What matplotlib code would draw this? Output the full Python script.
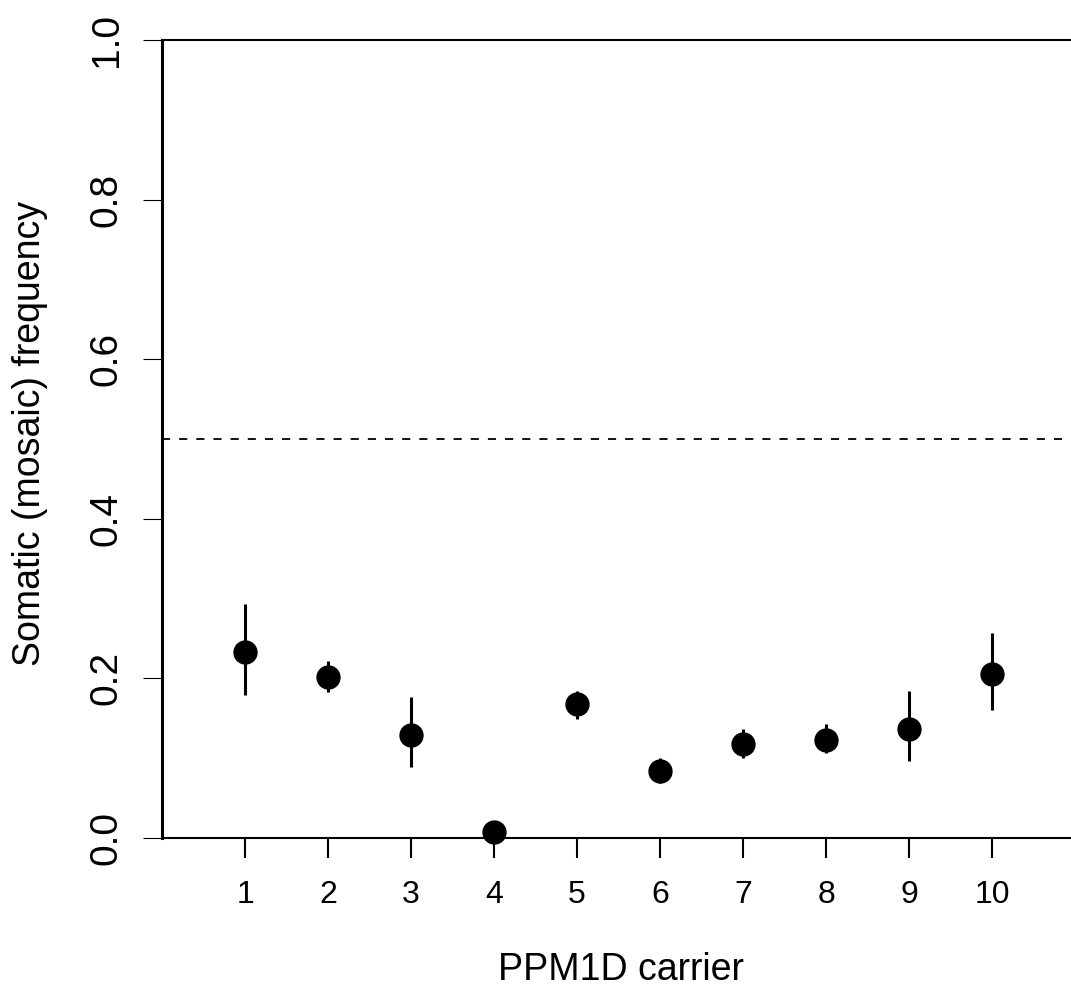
import numpy as np
import matplotlib
matplotlib.use('Agg')
import matplotlib.pyplot as plt

plt.rcParams['font.family'] = ['Liberation Sans', 'DejaVu Sans']

# somatic allele frequency per carrier, with lower / upper interval bounds
carrier = [1, 2, 3, 4, 5, 6, 7, 8, 9, 10]
freq = [0.233, 0.202, 0.129, 0.008, 0.168, 0.084, 0.118, 0.123, 0.137, 0.206]
lower = [0.179, 0.183, 0.089, 0.002, 0.149, 0.069, 0.100, 0.106, 0.096, 0.160]
upper = [0.293, 0.222, 0.177, 0.015, 0.184, 0.100, 0.137, 0.143, 0.184, 0.257]
yticks = [0.0, 0.2, 0.4, 0.6, 0.8, 1.0]

freq = np.array(freq)
yerr = [freq - np.array(lower), np.array(upper) - freq]

W, H = 1071, 990
fig = plt.figure(figsize=(W/100, H/100), dpi=100)
ax = fig.add_axes([162/W, 1 - 838/H, 1 - 162/W, 798/H])

ax.errorbar(carrier, freq, yerr=yerr, fmt='o', color='black', ms=16.5,
            elinewidth=2.2, capsize=0, zorder=3, clip_on=False)
ax.axhline(0.5, color='black', lw=1.3, ls=(0, (4.5, 5)))

ax.set_xlim(0, 10.95)
ax.set_ylim(0, 1)

ax.spines['right'].set_visible(False)
ax.spines['left'].set_linewidth(2.2)
ax.spines['top'].set_linewidth(1.5)
ax.spines['bottom'].set_linewidth(1.5)

ax.set_xticks(carrier)
ax.set_xticklabels([str(c) for c in carrier])
ax.set_yticks(yticks)
ax.set_yticklabels(['%.1f' % v for v in yticks], rotation=90, va='center')
ax.tick_params(axis='x', length=14.5, width=1.5, labelsize=23, pad=16)
ax.tick_params(axis='y', length=13.7, width=0.8, labelsize=28, pad=13)

fig.text(621/W, 1 - 980/H, 'PPM1D carrier', fontsize=27,
         ha='center', va='baseline')
fig.text(40/W, 1 - 434/H, 'Somatic (mosaic) frequency', fontsize=27,
         ha='center', va='baseline', rotation=90, rotation_mode='anchor')

fig.savefig('out.png', dpi=100)
